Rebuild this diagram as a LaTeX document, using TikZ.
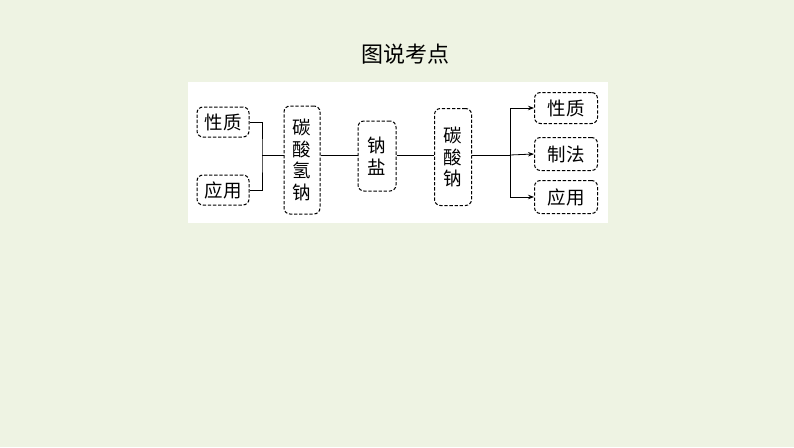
\documentclass[tikz,border=0pt]{standalone}
\usepackage{fontspec}
\newfontfamily\cjk{Noto Sans CJK SC}
\usetikzlibrary{positioning,arrows.meta}
\definecolor{bgreen}{RGB}{238,243,227}

\tikzset{
  dbox/.style={draw,dashed,dash pattern=on 3.3pt off 1.8pt,rounded corners=6pt,line width=1pt,
    inner sep=0pt,align=center,font=\cjk\fontsize{18.5}{21.7}\selectfont},
  link/.style={line width=0.8pt}
}

\begin{document}
\begin{tikzpicture}[x=1pt,y=-1pt]
    % Fundo e painel branco
    \fill[bgreen] (0,0) rectangle (794,447);
    \fill[white] (188,82) rectangle (608,223);
    \useasboundingbox (0,0) rectangle (794,447);

    % Titulo
    \node[font=\cjk\fontsize{22}{24}\selectfont] (titulo) at (405,54) {图说考点};

    % Caixas da esquerda
    \node[dbox,minimum width=52pt,minimum height=30pt] (xz1) at (223,122) {性质};
    \node[dbox,minimum width=52pt,minimum height=30pt] (yy1) at (223,190) {应用};

    % Caixas do meio
    \node[dbox,minimum width=36pt,minimum height=108pt] (nahco) at (302,160) {碳\\酸\\氢\\钠};
    \node[dbox,minimum width=38pt,minimum height=70pt] (nayan) at (377,156) {钠\\盐};
    \node[dbox,minimum width=37pt,minimum height=97pt] (naco) at (453,157) {碳\\酸\\钠};

    % Caixas da direita
    \node[dbox,minimum width=63pt,minimum height=31pt] (xz2) at (566,108) {性质};
    \node[dbox,minimum width=63pt,minimum height=33pt] (zf) at (566,154) {制法};
    \node[dbox,minimum width=63pt,minimum height=33pt] (yy2) at (566,197) {应用};

    % Ligacoes
    \coordinate (jL) at (262,155);
    \coordinate (jR) at (510,155);
    \draw[link] (xz1.east) -| (jL) |- (yy1.east);
    \draw[link] (jL) -- (nahco.west |- jL);
    \draw[link] (nahco.east |- jL) -- (nayan.west |- jL);
    \draw[link] (nayan.east |- jL) -- (naco.west |- jL);
    \draw[link] (naco.east |- jL) -- (jR);

    % Setas
    \draw[link,-{Stealth[length=6pt,width=4.5pt]}] (jR) |- (xz2.west);
    \draw[link,-{Stealth[length=6pt,width=4.5pt]}] (jR) -- (zf.west);
    \draw[link,-{Stealth[length=6pt,width=4.5pt]}] (jR) |- (yy2.west);

\end{tikzpicture}
\end{document}
